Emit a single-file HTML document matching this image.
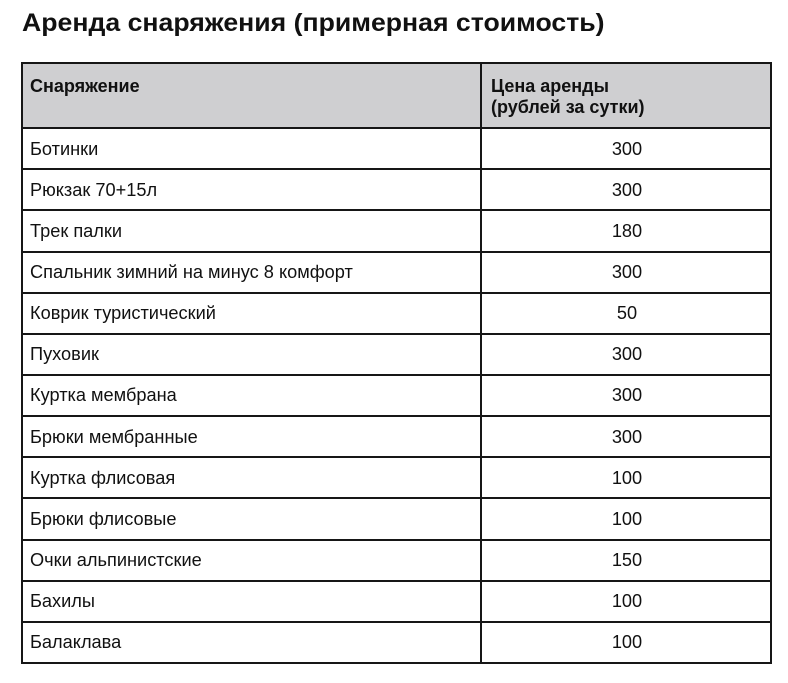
<!DOCTYPE html>
<html>
<head>
<meta charset="utf-8">
<style>
html,body{margin:0;padding:0;background:#fff;}
body{width:788px;height:683px;position:relative;overflow:hidden;font-family:"Liberation Sans",Arial,sans-serif;color:#111;}
.title{position:absolute;left:22px;top:11px;font-size:25px;line-height:25px;font-weight:bold;white-space:nowrap;color:#111;transform:scaleX(1.066);transform-origin:0 0;}
.tbl{position:absolute;left:21px;top:62px;width:751px;height:602px;box-sizing:border-box;border:2px solid #161616;}
.hdr{position:absolute;left:21px;top:63px;width:751px;height:65px;background:#cfcfd1;}
.h{position:absolute;left:21px;width:751px;height:2px;background:#161616;}
.v{position:absolute;left:480px;top:63px;width:2px;height:600px;background:#161616;}
.ht{position:absolute;top:76px;font-size:18px;line-height:21px;font-weight:bold;white-space:nowrap;}
.row{position:absolute;left:21px;width:751px;height:41px;}
.c1{position:absolute;left:9px;top:0;height:41px;line-height:41px;font-size:18.2px;white-space:nowrap;}
.c2{position:absolute;left:461px;width:290px;top:0;height:41px;line-height:41px;font-size:18.2px;text-align:center;}
</style>
</head>
<body>
<div class="title">Аренда снаряжения (примерная стоимость)</div>
<div class="hdr"></div>
<div class="ht" style="left:30px;">Снаряжение</div>
<div class="ht" style="left:491px;">Цена аренды<br>(рублей за сутки)</div>

<div class="row" style="top:128.5px;"><div class="c1">Ботинки</div><div class="c2">300</div></div>
<div class="row" style="top:169.6px;"><div class="c1">Рюкзак 70+15л</div><div class="c2">300</div></div>
<div class="row" style="top:210.8px;"><div class="c1">Трек палки</div><div class="c2">180</div></div>
<div class="row" style="top:251.9px;"><div class="c1">Спальник зимний на минус 8 комфорт</div><div class="c2">300</div></div>
<div class="row" style="top:293.1px;"><div class="c1">Коврик туристический</div><div class="c2">50</div></div>
<div class="row" style="top:334.2px;"><div class="c1">Пуховик</div><div class="c2">300</div></div>
<div class="row" style="top:375.4px;"><div class="c1">Куртка мембрана</div><div class="c2">300</div></div>
<div class="row" style="top:416.5px;"><div class="c1">Брюки мембранные</div><div class="c2">300</div></div>
<div class="row" style="top:457.7px;"><div class="c1">Куртка флисовая</div><div class="c2">100</div></div>
<div class="row" style="top:498.8px;"><div class="c1">Брюки флисовые</div><div class="c2">100</div></div>
<div class="row" style="top:540px;"><div class="c1">Очки альпинистские</div><div class="c2">150</div></div>
<div class="row" style="top:581.1px;"><div class="c1">Бахилы</div><div class="c2">100</div></div>
<div class="row" style="top:622.3px;"><div class="c1">Балаклава</div><div class="c2">100</div></div>

<div class="tbl"></div>
<div class="v"></div>
<div class="h" style="top:127px;"></div>
<div class="h" style="top:168.2px;"></div>
<div class="h" style="top:209.3px;"></div>
<div class="h" style="top:250.5px;"></div>
<div class="h" style="top:291.6px;"></div>
<div class="h" style="top:332.8px;"></div>
<div class="h" style="top:373.9px;"></div>
<div class="h" style="top:415.1px;"></div>
<div class="h" style="top:456.2px;"></div>
<div class="h" style="top:497.4px;"></div>
<div class="h" style="top:538.5px;"></div>
<div class="h" style="top:579.7px;"></div>
<div class="h" style="top:620.8px;"></div>
</body>
</html>
